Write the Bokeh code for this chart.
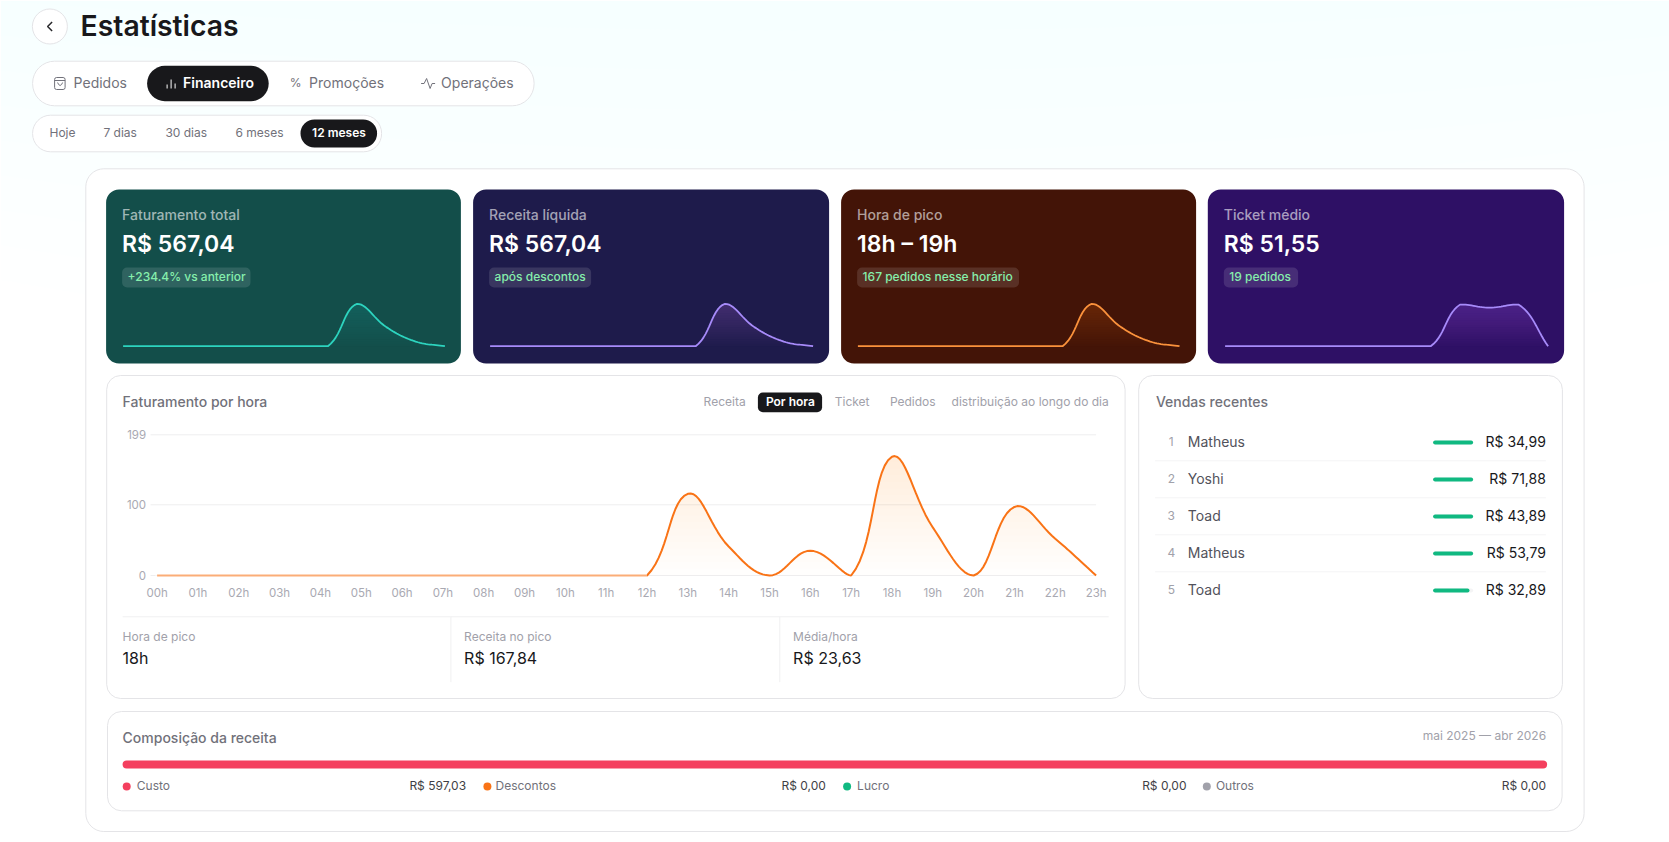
import math
from bokeh.plotting import figure
from bokeh.models import Range1d, LinearAxis, FixedTicker
from bokeh.core.properties import value
from bokeh.embed import file_html
from bokeh.resources import INLINE

# ---------- data ----------
HOUR_LABELS = ["00h","01h","02h","03h","04h","05h","06h","07h","08h","09h","10h","11h",
               "12h","13h","14h","15h","16h","17h","18h","19h","20h","21h","22h","23h"]
HOURLY_REVENUE = [0,0,0,0,0,0,0,0,0,0,0,0,0,115.5,41,0,35,0,167.84,68,0,97,52,0]
Y_TICKS = [0,100,199]

SPARK_FATURAMENTO = [0,0,0,0,0,0,0,0,100,45,11,0]
SPARK_RECEITA     = [0,0,0,0,0,0,0,0,100,45,11,0]
SPARK_PICO        = [0,0,0,0,0,0,0,0,100,45,11,0]
SPARK_TICKET      = [0,0,0,0,0,0,0,0,98,91,98,0]

CARD_LABELS = ["Faturamento total","Receita líquida","Hora de pico","Ticket médio"]
CARD_VALUES = ["R$ 567,04","R$ 567,04","18h – 19h","R$ 51,55"]
CARD_BADGES = ["+234.4% vs anterior","após descontos","167 pedidos nesse horário","19 pedidos"]
CARD_FILLS  = ["#134e4a","#1e1b4b","#431407","#2e1065"]
CARD_LINES  = ["#2dd4bf","#a78bfa","#fb923c","#a78bfa"]

TABS = ["Pedidos","Financeiro","Promoções","Operações"]
PERIODS = ["Hoje","7 dias","30 dias","6 meses","12 meses"]
SEGMENTS = ["Receita","Por hora","Ticket","Pedidos"]

STAT_LABELS = ["Hora de pico","Receita no pico","Média/hora"]
STAT_VALUES = ["18h","R$ 167,84","R$ 23,63"]

SALE_RANKS = [1,2,3,4,5]
SALE_NAMES = ["Matheus","Yoshi","Toad","Matheus","Toad"]
SALE_AMOUNTS = ["R$ 34,99","R$ 71,88","R$ 43,89","R$ 53,79","R$ 32,89"]
SALE_BAR = [100,100,100,100,91]

COMP_LABELS = ["Custo","Descontos","Lucro","Outros"]
COMP_VALUES = [597.03,0,0,0]
COMP_TEXT = ["R$ 597,03","R$ 0,00","R$ 0,00","R$ 0,00"]
COMP_COLORS = ["#f43f5e","#f97316","#10b981","#a1a1aa"]

# ---------- helpers ----------
FONT = value("Inter")
SEMI = value("'Inter SemiBold', Inter")
MED = value("'Inter Medium', Inter")
X0, X1, Y0, Y1 = 0.4, 1669.4, 0, 842

p = figure(width=1669, height=842, x_range=Range1d(X0,X1), y_range=Range1d(Y1,Y0),
           output_backend="svg", toolbar_location=None, x_axis_location=None, y_axis_location=None,
           min_border=0, background_fill_color="#ffffff", border_fill_color="#ffffff", outline_line_color=None)
p.xgrid.visible = False
p.ygrid.visible = False

def xrange_for(name, v0, px0, v1, px1):
    k = (v1-v0)/(px1-px0)
    p.extra_x_ranges[name] = Range1d(v0+(X0-px0)*k, v0+(X1-px0)*k)

def yrange_for(name, v0, px0, v1, px1):
    k = (v1-v0)/(px1-px0)
    p.extra_y_ranges[name] = Range1d(v0+(Y1-px0)*k, v0+(Y0-px0)*k)

def box(l, t, r, b, fill="#ffffff", line=None, radius=0, lw=1, alpha=1):
    p.quad(left=[l], right=[r], top=[t], bottom=[b], fill_color=fill, fill_alpha=alpha,
           line_color=line, line_width=lw, border_radius=radius)

def T(x, y, s, size=14, color="#18181b", align="left", font=FONT, alpha=1):
    p.text(x=[x], y=[y], text=[s], text_font=font, text_font_size=f"{size}px", text_color=color,
           text_align=align, text_baseline="middle", text_alpha=alpha, y_offset=-1)

def spline(ys, sx, sy, ymax, tension=0.4, n=14):
    """Cubic curve through the read points (same smoothing as the chart's line)."""
    m = len(ys)
    cp = []
    for i in range(m):
        a = max(i-1, 0); c = min(i+1, m-1)
        d01 = math.hypot((i-a)*sx, (ys[i]-ys[a])*sy)
        d12 = math.hypot((c-i)*sx, (ys[c]-ys[i])*sy)
        tot = d01+d12
        fa = d01/tot if tot else 0
        fb = d12/tot if tot else 0
        pc = (i-tension*fa*(c-a), min(max(ys[i]-tension*fa*(ys[c]-ys[a]),0),ymax))
        nc = (i+tension*fb*(c-a), min(max(ys[i]+tension*fb*(ys[c]-ys[a]),0),ymax))
        cp.append((pc, nc))
    X, Y = [], []
    for i in range(m-1):
        p0 = (i, ys[i]); p1 = cp[i][1]; p2 = cp[i+1][0]; p3 = (i+1, ys[i+1])
        for k in range(n):
            t = k/n; u = 1-t
            X.append(u**3*p0[0]+3*u*u*t*p1[0]+3*u*t*t*p2[0]+t**3*p3[0])
            Y.append(u**3*p0[1]+3*u*u*t*p1[1]+3*u*t*t*p2[1]+t**3*p3[1])
    X.append(m-1); Y.append(ys[-1])
    return X, Y

def gradient_area(X, Y, top, color, total_alpha, xn, yn, levels=18):
    for k in range(levels):
        lv = top*k/levels
        p.varea(x=X, y1=[min(v, lv) for v in Y], y2=Y, fill_color=color,
                fill_alpha=total_alpha/levels, x_range_name=xn, y_range_name=yn)

# ---------- page background ----------
for h in [1100,1020,940,860,780,700,620,540,460,380]:
    p.ellipse(x=[834], y=[-200], width=[3400], height=[h], fill_color="#e6f4fd", fill_alpha=0.045, line_color=None)

# ---------- header ----------
p.circle(x=[49.8], y=[26], radius=17.5, fill_color="#ffffff", line_color="#e4e4e7", line_width=1)
p.line(x=[52,47.5,52], y=[21.5,26,30.5], line_color="#27272a", line_width=1.5)
T(80.5, 26.5, "Estatísticas", 28.3, "#18181b", font=SEMI)

box(32.5, 60.7, 534, 105.3, "#ffffff", "#e4e4e7", 22)
box(147, 65.3, 268.6, 100.7, "#18181b", None, 18)
for x, s, f, col in zip([73.5,183,309,441], TABS, [FONT,SEMI,FONT,FONT],
                         ["#71717a","#ffffff","#71717a","#71717a"]):
    T(x, 83, s, 14, col, font=f)
# tab icons
box(54.5, 77, 65, 89, None, "#71717a", 2, 1)
p.line(x=[54.5,65], y=[80,80], line_color="#71717a", line_width=1)
p.line(x=[57.5,58.5,60,61.5,62.5], y=[82,84,85,84,82], line_color="#71717a", line_width=1)
p.segment(x0=[167,171,175], x1=[167,171,175], y0=[84,79,83], y1=[88,88,88], line_color="#ffffff", line_width=1)
T(295.5, 83, "%", 12, "#71717a", align="center")
p.line(x=[421,424,426.5,430,432,435], y=[83,83,78,88,83,83], line_color="#71717a", line_width=1)

box(32.5, 114.7, 381.5, 151.3, "#ffffff", "#e4e4e7", 18)
box(300.4, 119, 377, 147, "#18181b", None, 14)
for x, s, f, col in zip([49.4,103.3,165.3,235.4,312], PERIODS, [FONT]*4+[SEMI], ["#71717a"]*4+["#ffffff"]):
    T(x, 133, s, 12, col, font=f)

# ---------- main panel ----------
box(85.7, 168.3, 1584, 831, "#ffffff", "#e4e4e7", 18)

# ---------- KPI cards ----------
CARD_L = [106,473,841,1207.7]
CARD_R = [460.8,829,1196,1564]
BADGE_R = [250.4,591,1018.9,1298]
SPARK_L = [123,490,857.8,1225]
SPARK_R = [444.8,813,1179.4,1548]
SPARKS = [SPARK_FATURAMENTO,SPARK_RECEITA,SPARK_PICO,SPARK_TICKET]
yrange_for("spark", 0, 345.7, 100, 303.3)
for i in range(4):
    box(CARD_L[i], 189, CARD_R[i], 363, CARD_FILLS[i], None, 13)
    tx = CARD_L[i]+16
    T(tx, 215.3, CARD_LABELS[i], 14, "#ffffff", alpha=0.6, font=MED)
    T(tx, 244.5, CARD_VALUES[i], 23, "#ffffff", font=SEMI)
    box(tx, 267, BADGE_R[i], 287, "#ffffff", None, 5, alpha=0.12)
    T(tx+5.5, 277, CARD_BADGES[i], 12, "#86efac", font=MED)
    xn = f"m{i}"
    xrange_for(xn, 0, SPARK_L[i], 11, SPARK_R[i])
    X, Y = spline(SPARKS[i], (SPARK_R[i]-SPARK_L[i])/11, 42.4/100, 100)
    gradient_area(X, Y, 100, CARD_LINES[i], 0.26, xn, "spark")
    p.line(x=X, y=Y, line_color=CARD_LINES[i], line_width=1.8, x_range_name=xn, y_range_name="spark")

# ---------- hourly chart panel ----------
box(106.6, 375, 1125, 698, "#ffffff", "#e4e4e7", 14)
T(122.5, 402.3, "Faturamento por hora", 14, "#71717a", font=MED)
box(757.8, 392, 822, 411.7, "#18181b", None, 5)
for x, s, f, col in zip([703.5,765.8,834.7,889.8], SEGMENTS, [FONT,SEMI,FONT,FONT],
                         ["#a1a1aa","#ffffff","#a1a1aa","#a1a1aa"]):
    T(x, 402, s, 12, col, font=f)
T(1108.6, 402, "distribuição ao longo do dia", 12, "#a1a1aa", align="right")

xrange_for("hours", 0, 157, 23, 1096)
yrange_for("rev", 0, 575, 199, 434.3)
hours = list(range(len(HOURLY_REVENUE)))

p.segment(x0=[-0.16]*len(Y_TICKS), x1=[23]*len(Y_TICKS), y0=Y_TICKS, y1=Y_TICKS, line_color="#eeeeef", line_width=1,
          x_range_name="hours", y_range_name="rev")

HX, HY = spline(HOURLY_REVENUE, 40.83, 0.7071, 199)
gradient_area(HX, HY, 170, "#f97316", 0.12, "hours", "rev")
p.line(x=HX, y=HY, line_color="#f97316", line_width=2, x_range_name="hours", y_range_name="rev")
# the flat stretch on the baseline reads paler in the reference
p.segment(x0=[-0.05], x1=[12], y0=[0], y1=[0], line_color="#ffffff", line_alpha=0.42, line_width=3,
          x_range_name="hours", y_range_name="rev")

xax = LinearAxis(x_range_name="hours", y_range_name="rev", fixed_location=0,
                 ticker=FixedTicker(ticks=hours),
                 major_label_overrides={i: s for i, s in enumerate(HOUR_LABELS)},
                 major_tick_line_color=None, minor_tick_line_color=None, axis_line_color=None,
                 major_label_text_font="Inter", major_label_text_font_size="11.5px",
                 major_label_text_color="#a9a9b2", major_label_standoff=4)
p.add_layout(xax, "below")
yax = LinearAxis(x_range_name="hours", y_range_name="rev", fixed_location=0,
                 ticker=FixedTicker(ticks=Y_TICKS),
                 major_tick_line_color=None, minor_tick_line_color=None, axis_line_color=None,
                 major_label_text_font="Inter", major_label_text_font_size="11.5px",
                 major_label_text_color="#a9a9b2", major_label_standoff=5)
p.add_layout(yax, "left")

# stats strip
p.segment(x0=[122.5,450.8,779.7], x1=[1108.6,450.8,779.7], y0=[616.3,616.3,616.3], y1=[616.3,681.7,681.7],
          line_color="#f0f0f1", line_width=1)
for x, a, b in zip([122.5,464,793], STAT_LABELS, STAT_VALUES):
    T(x, 637, a, 12, "#a1a1aa")
    T(x, 658.3, b, 16, "#18181b")

# ---------- recent sales ----------
box(1138.6, 375, 1562.3, 698, "#ffffff", "#e4e4e7", 14)
T(1155.8, 402.3, "Vendas recentes", 14, "#71717a", font=MED)
xrange_for("pct", 0, 1433, 100, 1473)
yrange_for("rank", 1, 442, 5, 590)
p.segment(x0=[1155]*4, x1=[1545.8]*4, y0=[460.3,497.3,534.3,571.3], y1=[460.3,497.3,534.3,571.3],
          line_color="#f4f4f5", line_width=1)
p.text(x=[1171.2]*5, y=SALE_RANKS, text=[str(r) for r in SALE_RANKS], text_font=FONT, text_font_size="12px",
       text_color="#a1a1aa", text_align="center", text_baseline="middle", y_range_name="rank", y_offset=-1)
p.text(x=[1187.7]*5, y=SALE_RANKS, text=SALE_NAMES, text_font=FONT, text_font_size="14px",
       text_color="#52525b", text_baseline="middle", y_range_name="rank", y_offset=-1)
p.hbar(y=SALE_RANKS, left=[0]*5, right=[100]*5, height=0.11, fill_color="#f4f4f5", line_color=None,
       x_range_name="pct", y_range_name="rank", border_radius=2)
p.hbar(y=SALE_RANKS, left=[0]*5, right=SALE_BAR, height=0.11, fill_color="#10b981", line_color=None,
       x_range_name="pct", y_range_name="rank", border_radius=2)
p.text(x=[1545.8]*5, y=SALE_RANKS, text=SALE_AMOUNTS, text_font=FONT, text_font_size="14px",
       text_color="#18181b", text_align="right", text_baseline="middle", y_range_name="rank", y_offset=-1)

# ---------- composition ----------
box(107.4, 711, 1562, 810.3, "#ffffff", "#e4e4e7", 14)
T(122.5, 737.9, "Composição da receita", 14, "#71717a", font=MED)
T(1546, 736, "mai 2025 — abr 2026", 12, "#a1a1aa", align="right")
xrange_for("brl", 0, 122.5, sum(COMP_VALUES), 1547)
left = 0
for v, c in zip(COMP_VALUES, COMP_COLORS):
    if v > 0:
        p.hbar(y=[764], left=[left], right=[left+v], height=8, fill_color=c, line_color=None,
               x_range_name="brl", border_radius=4)
    left += v
DOT_X = [126.6,487.3,847,1206.7]
TXT_X = [136.7,495.4,857,1215.8]
VAL_R = [466,825.7,1186.4,1546]
p.scatter(x=DOT_X, y=[786]*4, size=8, fill_color=COMP_COLORS, line_color=None)
for i in range(4):
    T(TXT_X[i], 786, COMP_LABELS[i], 12, "#71717a")
    T(VAL_R[i], 786, COMP_TEXT[i], 12, "#3f3f46", align="right")

open("out.html", "w").write(file_html(p, INLINE))
